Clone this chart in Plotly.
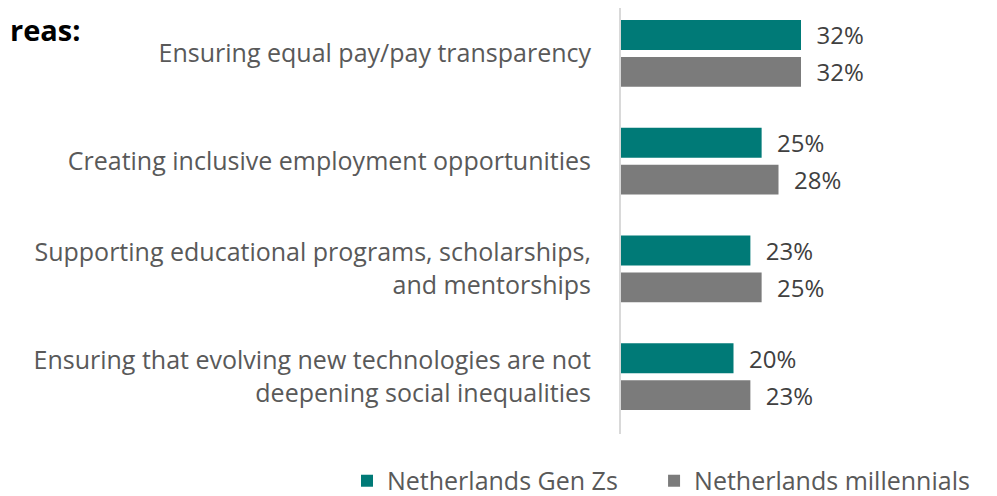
import plotly.graph_objects as go

categories = [
    "Ensuring equal pay/pay transparency",
    "Creating inclusive employment opportunities",
    "Supporting educational programs, scholarships,<br>and mentorships",
    "Ensuring that evolving new technologies are not<br>deepening social inequalities",
]
gen_z = [0.32, 0.25, 0.23, 0.20]
millennials = [0.32, 0.28, 0.25, 0.23]
series_names = ["Netherlands Gen Zs", "Netherlands millennials"]
colors = ["#007A77", "#7B7B7B"]

FONT = "Open Sans"

fig = go.Figure()
for i, (name, vals, col) in enumerate(zip(series_names, [gen_z, millennials], colors)):
    fig.add_trace(go.Bar(
        y=categories, x=vals, name=name, orientation="h",
        marker=dict(color=col, line=dict(width=0)),
        text=["\u00a0\u00a0" + f"{round(v*100)}%" for v in vals],
        textposition="outside",
        constraintext="none",
        textfont=dict(family=FONT, size=24, color="#404040"),
        cliponaxis=False,
        legend="legend" if i == 0 else "legend2",
    ))

legend_common = dict(orientation="h", xref="container", yref="container",
                     yanchor="middle", xanchor="left",
                     font=dict(family=FONT, size=25, color="#595959"),
                     bgcolor="rgba(0,0,0,0)")

# plot area in figure px: left 613, top 0, width 225, height 426
fig.add_annotation(text="<b>reas:</b>", xref="paper", yref="paper",
                   x=(0 - 613) / 225, y=1.0,
                   xanchor="left", yanchor="top", showarrow=False,
                   font=dict(family=FONT, size=29, color="#000000"))

fig.update_layout(
    width=997, height=496,
    margin=dict(l=613, r=159, t=0, b=70, autoexpand=False),
    paper_bgcolor="white", plot_bgcolor="white",
    barmode="group", bargap=0.315, bargroupgap=0.19,
    font=dict(family=FONT, color="#595959"),
    legend=dict(x=0.340, y=0.0464, **legend_common),
    legend2=dict(x=0.648, y=0.0464, **legend_common),
    showlegend=True,
)
fig.update_xaxes(range=[0, 0.40], visible=False, showgrid=False)
fig.update_yaxes(range=[3.532, -0.4213], showgrid=False, showline=True,
                 linecolor="#D9D9D9", linewidth=2, ticks="",
                 ticklabelstandoff=23, automargin=False,
                 tickfont=dict(family=FONT, size=25, color="#595959"))

fig.write_html("out.html")
